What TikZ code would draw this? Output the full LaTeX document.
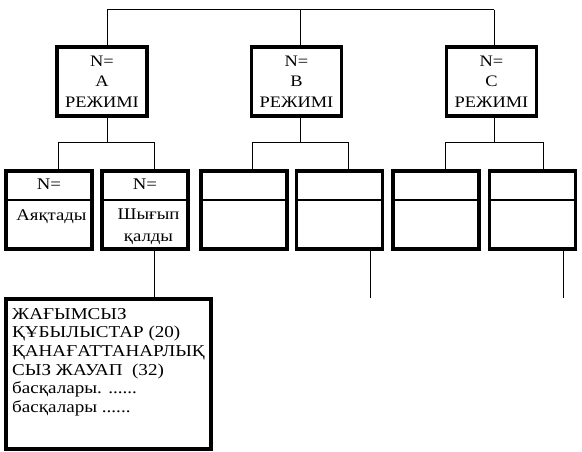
\documentclass[tikz,border=0pt]{standalone}
\usepackage{fontspec}
\newfontfamily\tnr[FakeStretch=1.15]{Liberation Serif}
\begin{document}
\begin{tikzpicture}[x=1pt,y=-1pt,
  conn/.style={line width=1pt},
  topbox/.style={draw, line width=3.5pt, minimum width=90pt, minimum height=69pt, inner sep=0pt, align=center,
     font=\tnr\fontsize{16}{20.5}\selectfont},
  lowbox/.style={draw, line width=3.5pt, minimum width=86pt, minimum height=78pt, inner sep=0pt},
  splitline/.style={line width=2pt},
  lbl/.style={inner sep=0pt, align=center, font=\tnr\fontsize{16.3}{22}\selectfont},
  bigbox/.style={draw, line width=3.5pt, minimum width=205pt, minimum height=150pt, inner sep=0pt},
  listtxt/.style={inner sep=0pt, align=left, anchor=north west, font=\tnr\fontsize{16.6}{18.6}\selectfont}]
\useasboundingbox (0,0) rectangle (582,452);
% top boxes
\node[topbox] (A) at (102,81.5) {N=\\A\\РЕЖИМІ};
\node[topbox] (B) at (296.5,81.5) {N=\\B\\РЕЖИМІ};
\node[topbox] (C) at (491.5,81.5) {N=\\C\\РЕЖИМІ};
% top connector
\coordinate (ta) at (107,10);
\coordinate (tb) at (300,10);
\coordinate (tc) at (494,10);
\draw[conn] (ta) -- (tc);
\draw[conn] (ta) -- (ta|-A.north);
\draw[conn] (tb) -- (tb|-B.north);
\draw[conn] (tc) -- (tc|-C.north);
% second row boxes
\node[lowbox] (b1) at (49,210) {};
\node[lowbox] (b2) at (145,210) {};
\node[lowbox] (b3) at (244,210) {};
\node[lowbox] (b4) at (339.5,210) {};
\node[lowbox] (b5) at (436,210) {};
\node[lowbox] (b6) at (532.5,210) {};
\foreach \b in {b1,b2,b3,b4,b5,b6}{
  \draw[splitline] ([yshift=-31pt]\b.north west) -- ([yshift=-31pt]\b.north east);
}
% labels
\node[lbl] (l1a) at (49,184) {N=};
\node[lbl] (l1b) at (51.5,217) {Аяқтады};
\node[lbl] (l2a) at (145,184) {N=};
\node[lbl] (l2b) at (148.5,227) {Шығып\\қалды};
% branch connectors
\coordinate (ja) at (107,143);
\coordinate (jb) at (300,143);
\coordinate (jc) at (494,143);
\coordinate (x1) at (58,143);
\coordinate (x2) at (154,143);
\coordinate (x3) at (252,143);
\coordinate (x4) at (348,143);
\coordinate (x5) at (445,143);
\coordinate (x6) at (543,143);
\draw[conn] (A.south -| ja) -- (ja);
\draw[conn] (B.south -| jb) -- (jb);
\draw[conn] (C.south -| jc) -- (jc);
\draw[conn] (x1|-b1.north) -- (x1) -- (x2) -- (x2|-b2.north);
\draw[conn] (x3|-b3.north) -- (x3) -- (x4) -- (x4|-b4.north);
\draw[conn] (x5|-b5.north) -- (x5) -- (x6) -- (x6|-b6.north);
% bottom box
\node[bigbox] (R) at (108.5,374) {};
\node[listtxt] (Rt) at (12,308) {ЖАҒЫМСЫЗ\\ҚҰБЫЛЫСТАР (20)\\ҚАНАҒАТТАНАРЛЫҚ\\СЫЗ ЖАУАП \ (32)\\басқалары. ......\\басқалары ......};
% down connectors
\coordinate (d4) at (370,298);
\coordinate (d6) at (563,298);
\draw[conn] (b2.south -| x2) -- (x2|-R.north);
\draw[conn] (b4.south -| d4) -- (d4);
\draw[conn] (b6.south -| d6) -- (d6);
\end{tikzpicture}
\end{document}
